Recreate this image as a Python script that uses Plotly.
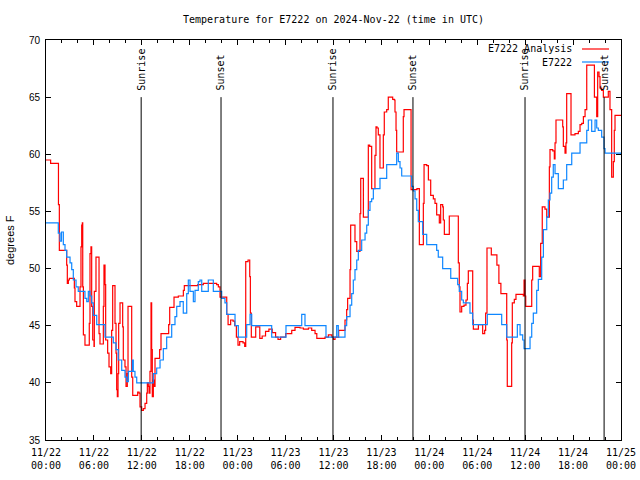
import pandas as pd
import plotly.graph_objects as go

# ---------------- data ----------------
BASE = "2024-11-22 00:00"

# Observed (E7222): hours since 11/22 00:00 UTC, temperature (F)
obs_hours = [0.00, 1.34, 1.54, 1.75, 1.94, 2.17, 2.38, 2.59, 3.01, 3.22, 3.42, 3.76, 4.04, 4.88, 5.10,
             5.30, 5.51, 5.72, 5.92, 6.35, 7.39, 8.43, 8.77, 9.05, 9.48, 9.89, 10.11, 10.31, 10.81,
             10.93, 11.14, 11.36, 13.24, 13.44, 13.86, 14.28, 14.69, 15.11, 15.74, 16.15, 16.37,
             16.78, 17.19, 17.62, 17.82, 18.03, 18.45, 18.66, 19.07, 19.28, 19.50, 20.12, 20.32,
             20.95, 22.00, 22.41, 22.63, 23.67, 24.08, 25.13, 25.55, 25.76, 28.26, 30.05, 32.02,
             32.43, 35.06, 36.40, 36.60, 37.44, 37.65, 38.07, 38.28, 38.48, 38.69, 38.91, 39.11,
             39.53, 39.95, 40.16, 40.36, 40.57, 40.78, 40.99, 41.82, 42.66, 43.91, 44.12, 44.33,
             44.54, 45.79, 45.99, 46.21, 46.42, 46.62, 47.17, 47.67, 48.92, 49.12, 49.67, 50.68,
             51.55, 51.75, 52.05, 52.26, 53.09, 53.43, 55.26, 57.06, 57.69, 59.02, 59.36, 59.69,
             59.86, 60.61, 60.82, 61.02, 61.44, 61.65, 62.07, 62.28, 62.70, 62.90, 63.11, 63.32,
             63.52, 63.74, 64.15, 64.78, 65.20, 65.83, 66.87, 67.71, 67.91, 68.33, 68.75, 68.96,
             69.16, 69.58, 69.87, 70.00, 72.00]
obs_temp = [54.0, 54.0, 53.1, 52.4, 53.2, 52.1, 51.6, 51.0, 50.5, 49.9, 49.0, 48.4, 48.0, 47.4, 47.1,
            48.0, 47.6, 47.0, 45.9, 45.1, 44.0, 43.5, 42.9, 42.0, 41.1, 40.5, 40.1, 41.0, 42.0,
            41.0, 40.5, 40.0, 40.0, 40.8, 41.3, 42.0, 43.0, 44.0, 45.1, 45.8, 46.7,
            47.1, 46.1, 47.8, 49.0, 48.0, 47.1, 48.1, 48.85, 49.0, 48.0, 48.0, 49.0,
            48.0, 47.4, 47.0, 46.0, 45.0, 44.0, 45.1, 46.0, 45.0, 44.0, 45.0, 46.0,
            45.0, 44.0, 45.0, 44.0, 45.0, 45.8, 46.8, 47.8, 49.0, 49.9, 50.75, 51.6,
            52.5, 53.1, 53.8, 55.1, 55.85, 56.1, 57.0, 57.9, 59.1, 60.1, 59.35, 58.8,
            58.1, 57.2, 56.8, 56.1, 55.1, 54.1, 53.0, 52.1, 51.6, 51.0, 50.0, 49.15,
            48.6, 48.0, 47.25, 47.0, 46.1, 45.1, 46.0, 45.1, 44.0, 45.1, 44.2, 43.75,
            43.0, 44.0, 45.2, 46.1, 48.1, 49.05, 51.0, 53.4, 54.5, 56.0, 56.6, 58.0,
            59.1, 58.3, 57.0, 57.75, 59.1, 60.1, 61.0, 62.1, 63.0, 62.0, 63.0, 62.3,
            62.1, 61.5, 60.5, 60.1, 60.0]

# Analysis (E7222 Analysis)
ana_hours = [0.00, 0.58, 1.56, 1.67, 2.51, 2.59, 2.67, 2.80, 2.92, 3.42, 3.55, 3.63, 3.84, 4.17, 4.26,
             4.38, 4.47, 4.55, 4.60, 4.68, 4.88, 5.38, 5.42, 5.51, 5.63, 5.72, 5.85, 6.01, 6.05,
             6.26, 6.55, 6.64, 6.76, 7.10, 7.18, 7.26, 7.39, 7.47, 7.72, 7.89, 8.10, 8.22, 8.35,
             8.51, 8.64, 8.77, 8.85, 8.93, 9.02, 9.10, 9.27, 9.48, 9.60, 9.68, 9.89, 10.02, 10.18,
             10.27, 10.64, 10.73, 10.86, 11.36, 11.48, 11.65, 11.77, 11.98, 12.19, 12.40, 12.61,
             12.69, 12.81, 12.90, 13.02, 13.15, 13.23, 13.31, 13.44, 13.56, 13.65, 14.23, 14.40,
             15.15, 15.36, 15.49, 16.03, 16.57, 17.20, 17.32, 19.00, 19.70, 21.37, 21.58, 21.79,
             22.42, 22.63, 22.80, 23.12, 23.42, 23.63, 23.84, 24.04, 24.25, 24.67, 24.88, 25.01,
             25.30, 25.51, 25.59, 25.71, 26.13, 26.26, 26.51, 26.77, 27.07, 27.49, 27.91, 28.33,
             28.75, 29.05, 29.38, 30.01, 30.77, 31.18, 31.81, 32.23, 32.86, 33.27, 33.69, 33.91,
             34.94, 35.36, 35.78, 35.99, 36.19, 36.65, 37.44, 37.65, 37.77, 38.07, 38.15, 38.48,
             38.69, 38.91, 39.24, 39.32, 39.41, 39.66, 39.74, 40.16, 40.36, 40.53, 40.78, 40.99,
             41.19, 41.32, 41.45, 41.61, 41.82, 42.15, 42.24, 42.36, 42.66, 42.86, 43.20, 43.41,
             43.62, 43.70, 43.83, 43.91, 44.54, 44.74, 44.83, 45.58, 45.71, 46.45, 46.75, 47.17,
             47.25, 47.34, 47.67, 47.88, 48.17, 48.50, 48.71, 48.92, 49.25, 49.42, 49.67, 49.75,
             49.88, 50.38, 50.50, 51.51, 51.63, 51.75, 51.84, 52.05, 52.34, 52.59, 52.76, 52.88,
             53.30, 53.43, 53.51, 54.01, 54.14, 54.47, 54.68, 54.93, 55.05, 55.22, 55.55, 55.76,
             56.29, 56.46, 56.71, 56.96, 57.59, 57.69, 57.76, 58.22, 58.31, 58.39, 58.64, 58.85,
             59.27, 59.77, 59.86, 59.98, 60.07, 60.61, 60.82, 60.94, 61.56, 61.77, 61.94, 62.14,
             62.48, 62.70, 63.03, 63.11, 63.45, 63.65, 63.74, 63.86, 64.57, 64.70, 64.78, 64.99,
             65.11, 65.20, 65.61, 65.74, 66.24, 66.66, 66.87, 67.08, 67.29, 67.50, 67.71, 68.54,
             68.67, 68.96, 69.08, 69.25, 69.37, 69.58, 69.79, 70.29, 70.41, 70.62, 70.83, 71.04,
             71.16, 71.25, 72.00]
ana_temp = [59.5, 59.2, 55.6, 51.6, 51.6, 50.3, 48.7, 49.0, 49.15, 49.15, 48.3, 47.1, 46.7, 46.7, 48.4,
            51.9, 53.8, 54.0, 48.4, 44.2, 43.3, 43.3, 45.2, 51.3, 51.9, 46.7, 43.75, 43.2, 48.0,
            51.0, 51.0, 44.3, 43.4, 43.4, 46.7, 50.3, 48.6, 43.75, 42.6, 41.4, 40.8, 44.6, 48.5,
            48.5, 45.2, 42.6, 39.4, 38.8, 40.8, 45.2, 47.0, 47.0, 44.9, 42.0, 41.4, 39.7, 40.8,
            46.7, 46.7, 40.5, 38.9, 38.9, 39.2, 39.1, 37.9, 37.6, 37.75, 38.2, 39.1,
            40.0, 39.7, 39.1, 41.0, 47.0, 42.9, 38.8, 40.25, 39.7, 42.15, 42.9, 44.3,
            44.3, 45.1, 46.6, 47.5, 47.6, 48.1, 48.5, 48.6, 48.7, 48.6, 48.4, 47.5,
            47.5, 46.0, 45.1, 45.5, 45.4, 45.0, 44.0, 43.3, 43.6, 43.5, 43.2, 50.6,
            50.75, 49.3, 46.1, 44.0, 44.0, 44.9, 44.9, 43.9, 44.1, 44.5, 44.7, 44.4,
            44.0, 43.8, 44.0, 44.3, 44.6, 44.85, 44.8, 44.7, 44.8, 44.6, 44.3, 43.9,
            44.0, 44.2, 44.0, 43.8, 44.0, 44.6, 45.5, 46.4, 47.4, 49.9, 53.8, 53.8,
            52.35, 51.5, 51.5, 54.8, 57.9, 57.9, 54.5, 54.5, 60.8, 60.7, 57.0, 57.0,
            59.9, 62.4, 62.3, 61.7, 58.8, 58.8, 61.7, 63.7, 63.9, 65.0, 65.0, 64.8,
            64.75, 63.7, 62.1, 60.2, 60.2, 63.3, 63.9, 63.9, 56.9, 57.0, 52.1, 52.1,
            55.7, 59.1, 59.0, 57.75, 56.4, 56.1, 55.7, 54.7, 54.0, 55.6, 55.4, 54.25,
            53.0, 53.0, 54.6, 54.6, 50.5, 48.4, 46.2, 46.7, 46.8, 47.25, 48.7, 49.8,
            49.8, 45.5, 44.7, 44.7, 45.1, 45.1, 44.3, 44.6, 46.1, 51.8, 51.8, 51.2,
            51.2, 50.3, 48.7, 47.8, 47.8, 43.75, 39.7, 39.7, 43.5, 47.0, 47.3, 47.75,
            47.75, 47.6, 49.0, 47.6, 46.7, 46.7, 49.0, 50.2, 50.2, 49.3, 52.2, 55.4,
            55.2, 54.5, 58.9, 60.4, 60.3, 59.6, 61.0, 63.0, 63.0, 62.4, 60.7, 60.1,
            61.0, 65.3, 65.3, 61.7, 61.8, 62.0, 62.6, 62.7, 63.3, 63.9, 67.8, 67.8,
            65.0, 63.3, 67.2, 66.8, 65.8, 65.6, 65.0, 65.0, 65.5, 63.9, 58.0, 59.35,
            62.1, 63.4, 63.4]

sun_times = ["2024-11-22 11:55", "2024-11-22 21:55", "2024-11-23 11:56",
             "2024-11-23 21:57", "2024-11-24 11:59", "2024-11-24 21:53"]
sun_labels = ["Sunrise", "Sunset", "Sunrise", "Sunset", "Sunrise", "Sunset"]

series_names = ["E7222 Analysis", "E7222"]
series_colors = ["#ff0000", "#0f87ff"]

title_text = "Temperature for E7222 on 2024-Nov-22 (time in UTC)"
y_title = "degrees F"
x_range = ["2024-11-22 00:00", "2024-11-25 00:00"]
y_range = [35, 70]

# ---------------- figure ----------------
base = pd.Timestamp(BASE)
ana_t = base + pd.to_timedelta(ana_hours, unit="h")
obs_t = base + pd.to_timedelta(obs_hours, unit="h")

MONO = "DejaVu Sans Mono"
SANS = "Liberation Sans"

fig = go.Figure()
fig.add_trace(go.Scatter(x=ana_t, y=ana_temp, mode="lines", line_shape="hv",
                         line=dict(color=series_colors[0], width=1.2), name=series_names[0],
                         showlegend=False))
fig.add_trace(go.Scatter(x=obs_t, y=obs_temp, mode="lines", line_shape="hv",
                         line=dict(color=series_colors[1], width=1.2), name=series_names[1],
                         showlegend=False))

for t, lab in zip(sun_times, sun_labels):
    fig.add_shape(type="line", xref="x", yref="y", x0=t, x1=t, y0=35, y1=65,
                  line=dict(color="black", width=1), layer="above")
    fig.add_annotation(x=t, y=65.4, xref="x", yref="y", text=lab, textangle=-90,
                       showarrow=False, xanchor="center", yanchor="bottom",
                       font=dict(family=MONO, size=10, color="black"))

# manual legend (text right, sample line to the right), gnuplot style
for i, (nm, col) in enumerate(zip(series_names, series_colors)):
    ypix = 49 + 13 * i
    yp = 1 - (ypix - 40) / 400
    fig.add_annotation(x=(574 - 46) / 575, y=yp, xref="paper", yref="paper", text=nm,
                       showarrow=False, xanchor="right", yanchor="middle",
                       font=dict(family=MONO, size=10, color="black"))
    fig.add_shape(type="line", xref="paper", yref="paper",
                  x0=(582 - 46) / 575, x1=(609 - 46) / 575, y0=yp, y1=yp,
                  line=dict(color=col, width=1.2))

fig.add_annotation(x=-36 / 575, y=0.5, xref="paper", yref="paper", text=y_title, textangle=-90,
                   showarrow=False, xanchor="center", yanchor="middle",
                   font=dict(family=SANS, size=11, color="black"))

fig.update_layout(
    width=640, height=480,
    margin=dict(l=46, r=19, t=40, b=40, autoexpand=False),
    paper_bgcolor="white", plot_bgcolor="white",
    title=dict(text=title_text, x=(46 + 287.5) / 640, xanchor="center", xref="container",
               y=1 - 19 / 480, yanchor="middle", yref="container",
               font=dict(family=MONO, size=10, color="black")),
    showlegend=False,
)
fig.update_xaxes(range=x_range, type="date", showgrid=False, zeroline=False, automargin=False,
                 showline=True, linecolor="black", linewidth=1, mirror="ticks",
                 ticks="inside", ticklen=5, tickcolor="black", tickwidth=1,
                 tick0="2024-11-22 00:00", dtick=6 * 3600 * 1000,
                 tickformat="%m/%d<br>%H:%M", ticklabelstandoff=3,
                 tickfont=dict(family=MONO, size=10, color="black"),
                 minor=dict(dtick=2 * 3600 * 1000, ticks="inside", ticklen=3,
                            tickcolor="black", showgrid=False))
fig.update_yaxes(range=y_range, showgrid=False, zeroline=False, automargin=False,
                 showline=True, linecolor="black", linewidth=1, mirror="ticks",
                 ticks="inside", ticklen=5, tickcolor="black", tickwidth=1,
                 dtick=5, tick0=35, ticklabelstandoff=3,
                 tickfont=dict(family=SANS, size=10, color="black"))

fig.write_html("out.html", config={"displayModeBar": False},
               post_script="document.body.style.margin='0px';document.body.style.padding='0px';")
